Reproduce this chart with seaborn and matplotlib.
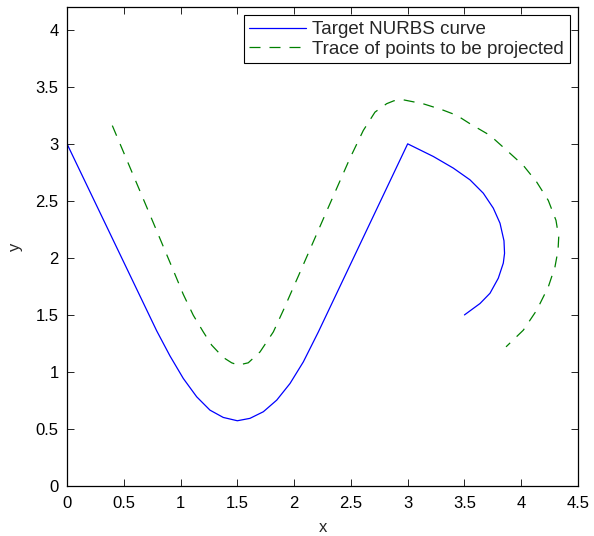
import matplotlib
matplotlib.use("Agg")
import matplotlib.pyplot as plt
import seaborn as sns
import pandas as pd

# Target NURBS curve
curve_x = [0.0, 0.790, 0.907, 1.024, 1.142, 1.259, 1.376, 1.50, 1.611, 1.729, 1.847,
           1.964, 2.081, 2.213, 3.0,
           3.226, 3.402, 3.549, 3.666, 3.754, 3.813, 3.848, 3.853, 3.842, 3.798, 3.725, 3.637, 3.5]
curve_y = [3.0, 1.36, 1.14, 0.943, 0.782, 0.665, 0.601, 0.572, 0.593, 0.651, 0.753,
           0.899, 1.088, 1.35, 3.0,
           2.889, 2.787, 2.684, 2.567, 2.436, 2.304, 2.15, 2.04, 1.954, 1.822, 1.69, 1.60, 1.5]

# Trace of points to be projected
trace_x = [0.399, 0.70, 0.936, 1.024, 1.112, 1.2, 1.274, 1.376, 1.45, 1.508, 1.596, 1.70, 1.817,
           1.905, 1.993, 2.037, 2.125, 2.30, 2.49, 2.609, 2.712, 2.815, 2.88, 2.961, 3.137, 3.30,
           3.432, 3.549, 3.725, 3.872, 4.018, 4.136, 4.238, 4.306, 4.33, 4.324, 4.297, 4.238,
           4.136, 4.018, 3.866]
trace_y = [3.16, 2.45, 1.891, 1.68, 1.497, 1.351, 1.235, 1.127, 1.08, 1.06, 1.08, 1.176, 1.351,
           1.541, 1.741, 1.84, 2.041, 2.44, 2.87, 3.117, 3.278, 3.352, 3.378, 3.386, 3.351, 3.30,
           3.25, 3.176, 3.074, 2.943, 2.811, 2.665, 2.504, 2.329, 2.183, 2.067, 1.921, 1.745,
           1.541, 1.366, 1.22]

x_ticks = [0, 0.5, 1, 1.5, 2, 2.5, 3, 3.5, 4, 4.5]
x_tick_labels = ["0", "0.5", "1", "1.5", "2", "2.5", "3", "3.5", "4", "4.5"]
y_ticks = [0, 0.5, 1, 1.5, 2, 2.5, 3, 3.5, 4]
y_tick_labels = ["0", "0.5", "1", "1.5", "2", "2.5", "3", "3.5", "4"]

sns.set_style("white")
plt.rcParams["font.family"] = ["Liberation Sans", "DejaVu Sans"]
plt.rcParams["font.size"] = 12

DASH = (8.8, 7.2)

fig = plt.figure(figsize=(5.94, 5.36), dpi=100)
ax = fig.add_axes([0.1128, 0.0933, 0.8603, 0.8937])

df_curve = pd.DataFrame({"x": curve_x, "y": curve_y})
df_trace = pd.DataFrame({"x": trace_x, "y": trace_y})

sns.lineplot(data=df_curve, x="x", y="y", sort=False, estimator=None, ax=ax,
             color="#0000ff", linewidth=0.9, label="Target NURBS curve")
sns.lineplot(data=df_trace, x="x", y="y", sort=False, estimator=None, ax=ax,
             color="#008000", linewidth=0.9, label="Trace of points to be projected",
             dashes=False)
ax.lines[1].set_dashes(DASH)

ax.set_xlim(0, 4.5)
ax.set_ylim(0, 4.2)
ax.set_xticks(x_ticks)
ax.set_xticklabels(x_tick_labels)
ax.set_yticks(y_ticks)
ax.set_yticklabels(y_tick_labels)
ax.set_xlabel("x", fontsize=12, labelpad=7)
ax.set_ylabel("y", fontsize=12, labelpad=9)

ax.tick_params(direction="in", length=5, width=0.6, colors="black", labelsize=12,
               top=True, right=True, bottom=True, left=True)
ax.tick_params(axis="x", pad=7)
ax.tick_params(axis="y", pad=6)
for s in ax.spines.values():
    s.set_color("black")
    s.set_linewidth(0.9)

leg = ax.legend(loc="upper right", fontsize=13.5, frameon=True, fancybox=False,
                edgecolor="black", framealpha=1, borderaxespad=0.45,
                handlelength=3.0, borderpad=0.3, labelspacing=0.12, handletextpad=0.35)
leg.get_frame().set_linewidth(0.8)
leg.get_lines()[1].set_dashes(DASH)

fig.savefig("out.png", dpi=100)
